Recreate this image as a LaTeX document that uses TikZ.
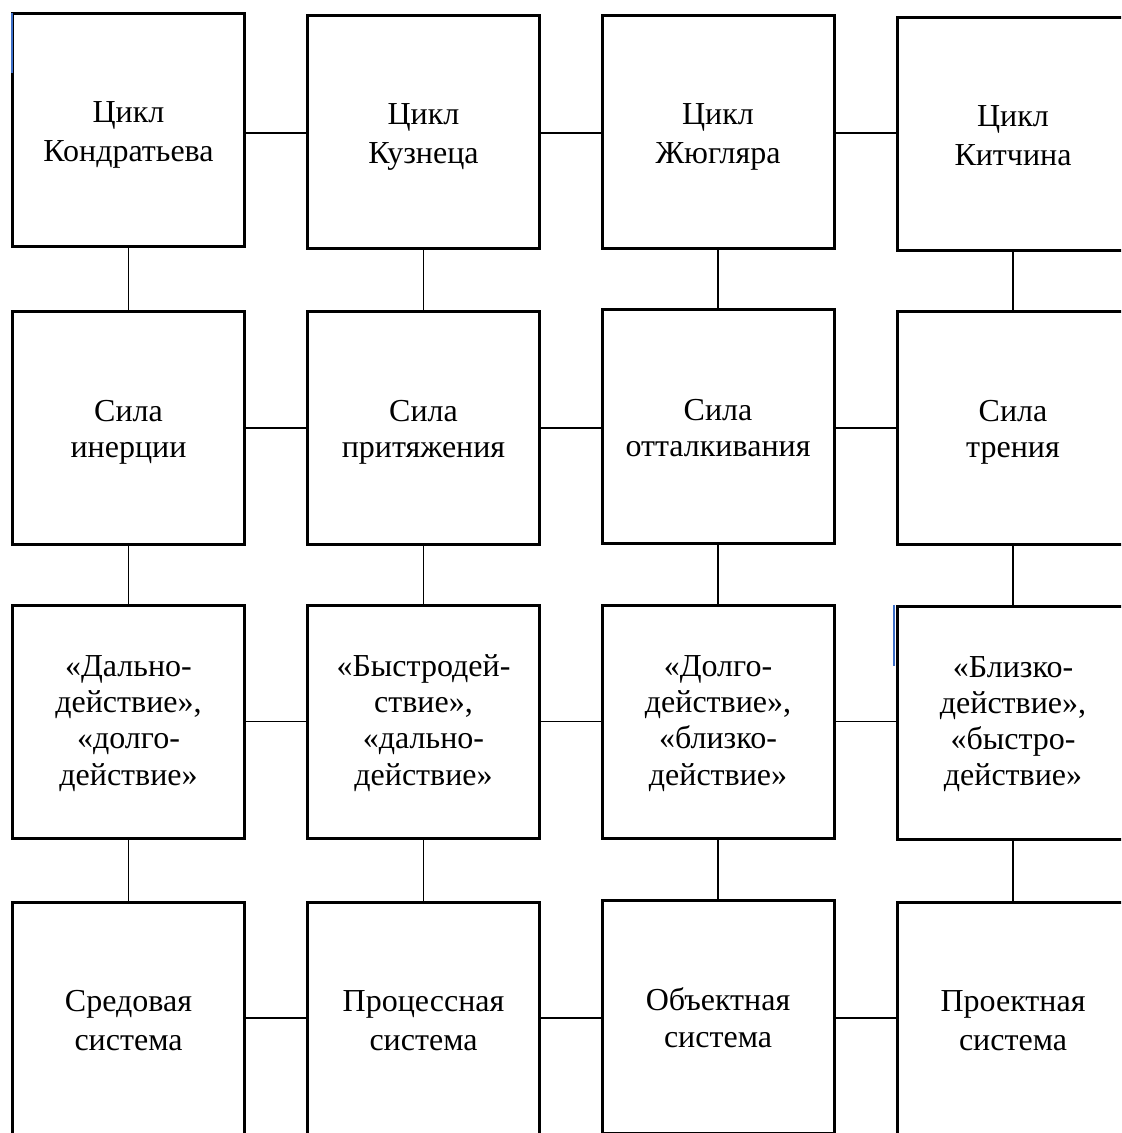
\documentclass[tikz,border=0pt]{standalone}
\usepackage{fontspec}
\setmainfont{Liberation Serif}
\definecolor{cursorblue}{RGB}{60,110,200}
\newcommand{\twol}[2]{\strut#1\\\strut#2}
\newcommand{\fourl}[4]{\strut#1\\\strut#2\\\strut#3\\\strut#4}
\begin{document}
\begin{tikzpicture}[x=0.5pt,y=-0.5pt,
  box/.style={draw, line width=1.5pt, minimum width=116pt, minimum height=116.5pt,
    inner sep=0pt, align=center,
    font={\fontsize{16}{18.15}\selectfont\setbox\strutbox\hbox{\vrule height15pt depth3pt width0pt}}},
  box4/.style={box,
    font={\fontsize{16}{18.1}\selectfont\setbox\strutbox\hbox{\vrule height13.4pt depth4.6pt width0pt}}},
  link/.style={line width=0.6pt},
  mark line/.style={cursorblue, line width=1pt}]
\useasboundingbox (0,0) rectangle (1121,1133);
\clip (0,0) rectangle (1121,1133);
% row 1
\node[box] (a1) at (128.5,130.5) {\twol{Цикл}{Кондратьева}};
\node[box] (a2) at (423.5,132.5) {\twol{Цикл}{Кузнеца}};
\node[box] (a3) at (718,132.5) {\twol{Цикл}{Жюгляра}};
\node[box] (a4) at (1013,134) {\twol{Цикл}{Китчина}};
% row 2
\node[box] (b1) at (128.5,428) {\twol{Сила}{инерции}};
\node[box] (b2) at (423.5,428) {\twol{Сила}{притяжения}};
\node[box] (b3) at (718,426.5) {\twol{Сила}{отталкивания}};
\node[box] (b4) at (1013,428) {\twol{Сила}{трения}};
% row 3
\node[box4] (c1) at (128.5,722) {\fourl{«Дально-}{действие»,}{«долго-}{действие»}};
\node[box4] (c2) at (423.5,722) {\fourl{«Быстродей-}{ствие»,}{«дально-}{действие»}};
\node[box4] (c3) at (718,722) {\fourl{«Долго-}{действие»,}{«близко-}{действие»}};
\node[box4] (c4) at (1013,722.5) {\fourl{«Близко-}{действие»,}{«быстро-}{действие»}};
% row 4
\node[box] (d1) at (128.5,1019) {\twol{Средовая}{система}};
\node[box] (d2) at (423.5,1019) {\twol{Процессная}{система}};
\node[box] (d3) at (718,1017) {\twol{Объектная}{система}};
\node[box] (d4) at (1013,1019) {\twol{Проектная}{система}};
% levels of the horizontal connectors
\coordinate (ha) at (0,133);
\coordinate (hb) at (0,428);
\coordinate (hc) at (0,721.5);
\coordinate (hd) at (0,1018);
% horizontal connectors
\foreach \r in {a,b,c,d}{
  \draw[link] (\r1.east |- h\r) -- (\r2.west |- h\r);
  \draw[link] (\r2.east |- h\r) -- (\r3.west |- h\r);
  \draw[link] (\r3.east |- h\r) -- (\r4.west |- h\r);
}
% vertical connectors
\foreach \c in {1,2,3,4}{
  \draw[link] (a\c) -- (b\c);
  \draw[link] (b\c) -- (c\c);
  \draw[link] (c\c) -- (d\c);
}
% small blue marks
\draw[mark line] (11.5,13) -- (11.5,73);
\draw[mark line] (894,605) -- (894,666);
\end{tikzpicture}
\end{document}
